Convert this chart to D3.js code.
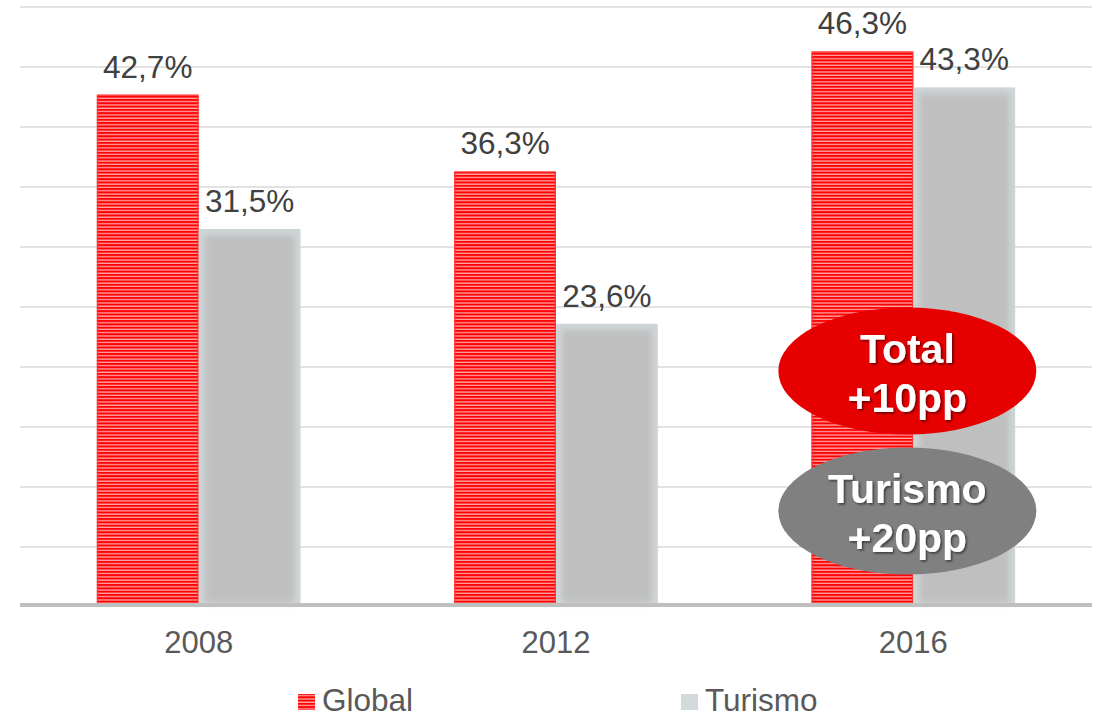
<!DOCTYPE html>
<html>
<head>
<meta charset="utf-8">
<script src="https://cdn.jsdelivr.net/npm/d3@7"></script>
<style>
  html, body { margin: 0; padding: 0; background: #fff; }
  svg { display: block; font-family: "Liberation Sans", Arial, sans-serif; }
</style>
</head>
<body>
<svg id="chart" width="1097" height="717"></svg>
<script>
const categories = ["2008", "2012", "2016"];
const seriesNames = ["Global", "Turismo"];
const globalValues = [42.7, 36.3, 46.3];
const turismoValues = [31.5, 23.6, 43.3];
const valueLabels = {
  Global: ["42,7%", "36,3%", "46,3%"],
  Turismo: ["31,5%", "23,6%", "43,3%"]
};
const yTicks = [0, 5, 10, 15, 20, 25, 30, 35, 40, 45, 50];
const callouts = [
  { lines: ["Total", "+10pp"], fill: "#e60000" },
  { lines: ["Turismo", "+20pp"], fill: "#808080" }
];

const svg = d3.select("#chart");
const defs = svg.append("defs");

// stripe pattern for Global
const pat = defs.append("pattern")
  .attr("id", "stripes").attr("patternUnits", "userSpaceOnUse")
  .attr("width", 10).attr("height", 3.3);
pat.append("rect").attr("width", 10).attr("height", 3.3).attr("fill", "#ffa8a8");
pat.append("rect").attr("width", 10).attr("height", 2).attr("fill", "#ff0000");

const blur = defs.append("filter").attr("id", "soft").attr("x", "-10%").attr("y", "-10%").attr("width", "120%").attr("height", "120%");
blur.append("feGaussianBlur").attr("stdDeviation", 3);

const shadow = defs.append("filter").attr("id", "shadow").attr("x", "-20%").attr("y", "-20%").attr("width", "140%").attr("height", "140%");
shadow.append("feDropShadow").attr("dx", 1.5).attr("dy", 1.5).attr("stdDeviation", 1.2)
  .attr("flood-color", "#000").attr("flood-opacity", 0.55);

const plotLeft = 20, plotRight = 1092;
const y = d3.scaleLinear().domain([0, 50]).range([607, 7]);
const x = d3.scaleBand().domain(categories).range([plotLeft, plotRight])
  .paddingInner(0.43).paddingOuter(0.215);
const x1 = d3.scaleBand().domain(seriesNames).range([0, x.bandwidth()]);

// gridlines
svg.append("g").selectAll("line").data(yTicks.filter(t => t > 0)).join("line")
  .attr("x1", plotLeft).attr("x2", plotRight)
  .attr("y1", d => y(d)).attr("y2", d => y(d))
  .attr("stroke", "#d9d9d9").attr("stroke-width", 1.5);

const data = categories.map((c, i) => ({
  cat: c, i,
  Global: globalValues[i],
  Turismo: turismoValues[i]
}));

const bars = svg.append("g");
data.forEach(d => {
  const gx = x(d.cat);
  const gX = gx + x1("Global");
  const bw = x1.bandwidth();
  const gTop = y(d.Global);
  bars.append("rect").attr("x", gX).attr("y", gTop).attr("width", bw)
    .attr("height", y(0) - gTop).attr("fill", "url(#stripes)");
  bars.append("rect").attr("x", gX + 0.75).attr("y", gTop + 0.75).attr("width", bw - 1.5)
    .attr("height", y(0) - gTop - 1.5).attr("fill", "none")
    .attr("stroke", "#ff3030").attr("stroke-width", 1.5).attr("opacity", 0.8);
  const tX = gx + x1("Turismo");
  const tTop = y(d.Turismo);
  bars.append("rect").attr("x", tX).attr("y", tTop).attr("width", bw)
    .attr("height", y(0) - tTop).attr("fill", "#cfd6d8");
  bars.append("rect").attr("x", tX + 6).attr("y", tTop + 6).attr("width", bw - 12)
    .attr("height", y(0) - tTop - 10).attr("fill", "#bfbfbf").attr("filter", "url(#soft)");
});

// value labels
const labels = svg.append("g").attr("font-size", 31.5).attr("fill", "#404040").attr("text-anchor", "middle");
data.forEach(d => {
  seriesNames.forEach(s => {
    labels.append("text")
      .attr("x", x(d.cat) + x1(s) + x1.bandwidth() / 2)
      .attr("y", y(d[s]) - 17)
      .text(valueLabels[s][d.i]);
  });
});

// x axis line
svg.append("line").attr("x1", plotLeft).attr("x2", plotRight)
  .attr("y1", 605).attr("y2", 605).attr("stroke", "#bfbfbf").attr("stroke-width", 4);

// x axis labels
const xAxis = d3.axisBottom(x).tickSize(0).tickPadding(0);
const ax = svg.append("g").attr("transform", "translate(0,653)").call(xAxis);
ax.select(".domain").remove();
ax.selectAll("text").attr("font-size", 31).attr("fill", "#595959")
  .attr("font-family", "Liberation Sans, Arial, sans-serif").attr("dy", 0);

// callouts
const lastCat = categories[categories.length - 1];
const cx = x(lastCat) + x.bandwidth() / 2 - 6;
const calloutY = [371, 511];
callouts.forEach((c, k) => {
  const g = svg.append("g");
  g.append("ellipse").attr("cx", cx).attr("cy", calloutY[k]).attr("rx", 129).attr("ry", 63.5)
    .attr("fill", c.fill);
  c.lines.forEach((t, j) => {
    g.append("text").attr("x", cx).attr("y", calloutY[k] - 8 + j * 49)
      .attr("text-anchor", "middle").attr("font-size", 41).attr("font-weight", "bold")
      .attr("fill", "#fff").attr("filter", "url(#shadow)").text(t);
  });
});

// legend
const legend = svg.append("g");
const legendItems = [
  { name: "Global", sx: 298, fill: "url(#stripes)" },
  { name: "Turismo", sx: 681, fill: "#d3dadc" }
];
legendItems.forEach(it => {
  legend.append("rect").attr("x", it.sx).attr("y", 694).attr("width", 17).attr("height", 16)
    .attr("fill", it.fill);
  legend.append("text").attr("x", it.sx + 24).attr("y", 711)
    .attr("font-size", 31.5).attr("fill", "#595959").text(it.name);
});
</script>
</body>
</html>
